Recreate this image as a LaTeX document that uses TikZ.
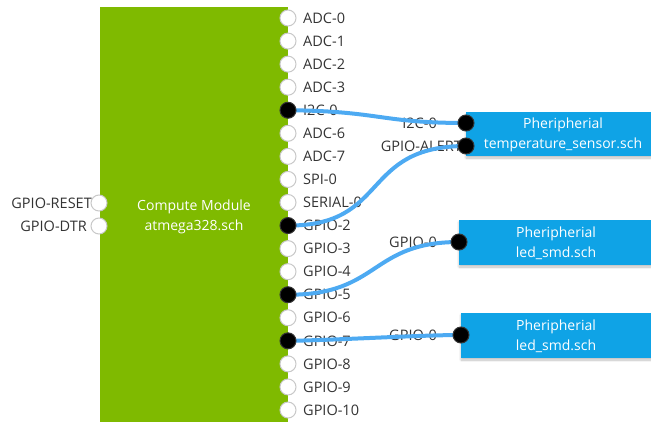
\documentclass[tikz,border=0pt]{standalone}
\usepackage{fontspec}
\setmainfont{Open Sans}
\usetikzlibrary{shadows.blur}
\definecolor{modgreen}{HTML}{7FBA00}
\definecolor{perblue}{HTML}{0FA3E6}
\definecolor{wireblue}{HTML}{4DAAF2}
\definecolor{labelgray}{HTML}{333333}
\definecolor{portedge}{HTML}{C8C8C8}
\tikzset{
  px/.style={x=1pt,y=-1pt},
  freeport/.style={circle,draw=portedge,fill=white,line width=1pt,inner sep=0pt,minimum size=16pt},
  usedport/.style={circle,draw=labelgray,fill=black,line width=1pt,inner sep=0pt,minimum size=16pt},
  portlabel/.style={text=labelgray,font=\fontsize{14.5}{16}\selectfont,inner sep=0pt},
  boxtext/.style={text=white,font=\fontsize{14}{20}\selectfont,align=center,inner sep=0pt},
  wire/.style={wireblue,line width=4pt,line cap=round},
  perbox/.style={fill=perblue,blur shadow={shadow blur steps=8,shadow xshift=0pt,shadow yshift=-2pt,shadow opacity=25}},
}
\begin{document}
\begin{tikzpicture}[px]
\useasboundingbox (0,0) rectangle (651,421);
% compute module body
\fill[modgreen] (100,7) rectangle (288,430);
\node[boxtext] (cm) at (194,217) {Compute Module\\atmega328.sch};

% peripheral boxes
\fill[perbox] (466,112) rectangle (660,156);
\node[boxtext] (p1) at (563,135) {Pheripherial\\temperature\_sensor.sch};
\fill[perbox] (459,220) rectangle (660,265);
\node[boxtext] (p2) at (556,243) {Pheripherial\\led\_smd.sch};
\fill[perbox] (461,313) rectangle (660,358);
\node[boxtext] (p3) at (556,336) {Pheripherial\\led\_smd.sch};

% right-side port labels of the compute module
\foreach \lab [count=\i from 0] in {ADC-0,ADC-1,ADC-2,ADC-3,I2C-0,ADC-6,ADC-7,SPI-0,SERIAL-0,GPIO-2,GPIO-3,GPIO-4,GPIO-5,GPIO-6,GPIO-7,GPIO-8,GPIO-9,GPIO-10}
  \node[portlabel,anchor=west] (l\i) at (303,{18+23.06*\i}) {\lab};

% left-side port labels
\node[portlabel,anchor=east] (lreset) at (92,203) {GPIO-RESET};
\node[portlabel,anchor=east] (ldtr) at (87,226) {GPIO-DTR};

% peripheral port labels
\node[portlabel,anchor=east] (li2c) at (437,123) {I2C-0};
\node[portlabel,anchor=east] (lalert) at (462,146) {GPIO-ALERT};
\node[portlabel,anchor=east] (lg0a) at (437,242) {GPIO-0};
\node[portlabel,anchor=east] (lg0b) at (437,335) {GPIO-0};

% port coordinates
\foreach \i in {0,...,17}
  \coordinate (r\i) at (288,{18+23.06*\i});
\coordinate (preset) at (99,203);
\coordinate (pdtr) at (99,226);
\coordinate (q1a) at (466,123);
\coordinate (q1b) at (466,146);
\coordinate (q2) at (459,242);
\coordinate (q3) at (461,335);

% wires
\draw[wire] (r4) .. controls (380,111) and (380,123) .. (q1a);
\draw[wire] (r9) .. controls (390,226) and (360,146) .. (q1b);
\draw[wire] (r12) .. controls (380,295) and (370,242) .. (q2);
\draw[wire] (r14) .. controls (340,340) and (420,335) .. (q3);

% port circles
\foreach \i in {0,1,2,3,5,6,7,8,10,11,13,15,16,17}
  \node[freeport] (c\i) at (r\i) {};
\foreach \i in {4,9,12,14}
  \node[usedport] (c\i) at (r\i) {};
\node[freeport] (creset) at (preset) {};
\node[freeport] (cdtr) at (pdtr) {};
\node[usedport] (cq1a) at (q1a) {};
\node[usedport] (cq1b) at (q1b) {};
\node[usedport] (cq2) at (q2) {};
\node[usedport] (cq3) at (q3) {};
\end{tikzpicture}
\end{document}
